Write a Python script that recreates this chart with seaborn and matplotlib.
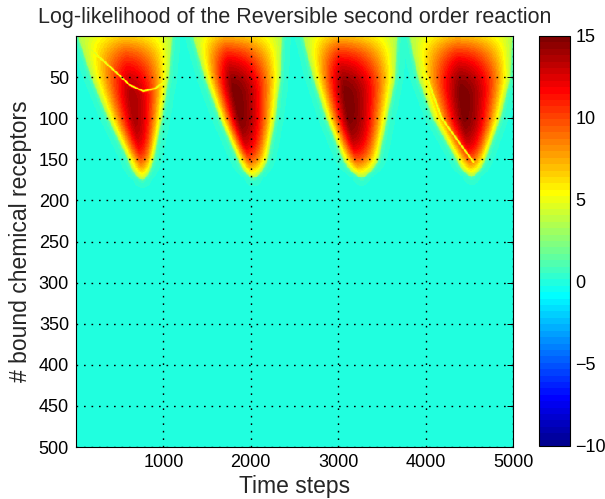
import numpy as np
import matplotlib
matplotlib.use("Agg")
import matplotlib.pyplot as plt
from matplotlib.colors import ListedColormap
import seaborn as sns

# ---------------- values ----------------
x_max = 5000
y_max = 500
edge_levels = [0, 50, 100, 150]                       # depth levels (y) of edge readings
left_edges = [[27, 179, 370, 599],
              [1342, 1476, 1648, 1857],
              [2601, 2716, 2868, 3059],
              [3822, 3917, 4089, 4356]]
right_edges = [[1095, 1056, 980, 885],
               [2353, 2334, 2277, 2189],
               [3669, 3650, 3555, 3459],
               [4985, 4966, 4851, 4680]]
tip_x = [760, 2030, 3268, 4527]
tip_y = [174, 172, 171, 170]
core_x = [640, 1819, 3090, 4413]
core_y = [80, 72, 76, 74]
peak = [13.8, 15.0, 15.0, 15.0]
edge_value = 3.5
top_value_depth = -15                                  # blobs continue above the top row

ridge1_x = [65, 236, 427, 618, 770, 904, 1037]
ridge1_y = [5, 23, 41, 60, 67, 64, 54]
ridge1_level = 4.8
ridge4_x = [3860, 4013, 4184, 4394, 4546]
ridge4_y = [5, 50, 100, 131, 153]
ridge4_level = 4.8

x_ticks = [1000, 2000, 3000, 4000, 5000]
y_ticks = [50, 100, 150, 200, 250, 300, 350, 400, 450, 500]
cbar_ticks = [-10, -5, 0, 5, 10, 15]
v_min, v_max = -10, 15

title = "Log-likelihood of the Reversible second order reaction"
x_label = "Time steps"
y_label = "# bound chemical receptors"

# ---------------- build the field ----------------
ncols, nrows = 1000, 500
dx = x_max / ncols
xs = (np.arange(ncols) + 0.5) * dx
ys = (np.arange(nrows) + 0.5) * (y_max / nrows)
SX = x_max / 437.0   # data units per pixel
SY = y_max / 411.0
XD, YD = np.meshgrid(xs, ys)

P_LEFT, P_RIGHT, P_UP, P_DOWN = 1.3, 2.0, 1.9, 3.0


def smooth(a, k=9):
    ker = np.ones(k) / k
    return np.convolve(np.pad(a, k // 2, mode="edge"), ker, mode="valid")


field = np.zeros((nrows, ncols))
for b in range(len(tip_x)):
    L, R = left_edges[b], right_edges[b]
    tx, ty = tip_x[b], tip_y[b]
    Lr = np.interp(ys, edge_levels, L)
    Rr = np.interp(ys, edge_levels, R)
    y_last = edge_levels[-1]
    frac = np.sqrt(np.clip((ty - ys) / (ty - y_last), 0, 1))
    m = ys > y_last
    Lr[m] = tx - (tx - L[-1]) * frac[m]
    Rr[m] = tx + (R[-1] - tx) * frac[m]
    Lr, Rr = smooth(Lr), smooth(Rr)
    W = np.maximum(Rr - Lr, 1e-6)
    U = (XD - Lr[:, None]) / W[:, None]

    Lc = np.interp(core_y[b], ys, Lr)
    Rc = np.interp(core_y[b], ys, Rr)
    uc = (core_x[b] - Lc) / (Rc - Lc)

    cy = core_y[b]
    t = np.where(ys < cy, (cy - ys) / (cy - top_value_depth), (ys - cy) / (ty - cy))
    t = np.clip(t, 0, 1)
    pv = np.where(ys < cy, P_UP, P_DOWN)
    g = edge_value + (peak[b] - edge_value) * (1 - t ** pv)

    s = np.where(U < uc, (uc - U) / uc, (U - uc) / (1 - uc))
    s = np.clip(s, 0, 1)
    ph = np.where(U < uc, P_LEFT, P_RIGHT)
    h = 1 - s ** ph
    v_in = edge_value + (g[:, None] - edge_value) * h

    inside = (U >= 0) & (U <= 1) & (YD < ty)
    dh = np.where(U < 0, (Lr[:, None] - XD) / SX, (XD - Rr[:, None]) / SX)
    dh = np.where(YD < ty, dh, np.inf)
    dt = np.hypot((XD - tx) / SX, (YD - ty) / SY)
    d = np.clip(np.minimum(dh, dt), 0, None)
    v_out = 2.0 * np.exp(-d / 0.7) + 1.5 * np.exp(-d / 4.0)
    v = np.where(inside, v_in, v_out)
    field = np.maximum(field, v)


def seg_dist(px, py, ax_, ay_, bx_, by_):
    vx, vy = bx_ - ax_, by_ - ay_
    tt = ((px - ax_) * vx + (py - ay_) * vy) / (vx * vx + vy * vy)
    tt = np.clip(tt, 0, 1)
    return np.hypot(px - (ax_ + tt * vx), py - (ay_ + tt * vy))


def apply_ridge(field, rx, ry, level, w=1.0):
    rx = np.array(rx) / SX
    ry = np.array(ry) / SY
    PX, PY = XD / SX, YD / SY
    d = np.full(field.shape, np.inf)
    for i in range(len(rx) - 1):
        d = np.minimum(d, seg_dist(PX, PY, rx[i], ry[i], rx[i + 1], ry[i + 1]))
    gg = np.exp(-(d / w) ** 2)
    return np.where(field > level, level + (field - level) * (1 - gg), field)


field = apply_ridge(field, ridge1_x, ridge1_y, ridge1_level)
field = apply_ridge(field, ridge4_x, ridge4_y, ridge4_level)


# MATLAB-style jet(64) colormap
def matlab_jet(m=64):
    n = int(np.ceil(m / 4))
    u = np.concatenate([np.arange(1, n + 1), n * np.ones(n - 1), np.arange(n, 0, -1)]) / n
    gpos = int(np.ceil(n / 2)) - (1 if m % 4 == 1 else 0) + np.arange(1, len(u) + 1)
    rpos = gpos + n
    bpos = gpos - n
    J = np.zeros((m, 3))
    ok = rpos <= m
    J[rpos[ok] - 1, 0] = u[ok]
    ok = gpos <= m
    J[gpos[ok] - 1, 1] = u[ok]
    ok = bpos >= 1
    J[bpos[ok] - 1, 2] = u[ok]
    return ListedColormap(J, name="matlab_jet")


# ---------------- plot ----------------
sns.set_style("white")
plt.rcParams["font.family"] = ["Liberation Sans", "DejaVu Sans"]

fig = plt.figure(figsize=(6.05, 4.99), dpi=100)
ax = fig.add_axes([76 / 605, (499 - 447) / 499, 437 / 605, 411 / 499])
cax = fig.add_axes([539 / 605, (499 - 446) / 499, 31 / 605, 410 / 499])

cmap = matlab_jet(64)
sns.heatmap(field, ax=ax, cmap=cmap, vmin=v_min, vmax=v_max, cbar_ax=cax,
            xticklabels=False, yticklabels=False, rasterized=True)

ax.set_xticks([t / dx for t in x_ticks])
ax.set_xticklabels([str(t) for t in x_ticks], rotation=0)
ax.set_yticks([t * nrows / y_max for t in y_ticks])
ax.set_yticklabels([str(t) for t in y_ticks], rotation=0)
ax.set_xlim(0, ncols)
ax.set_ylim(nrows, 0)
ax.tick_params(axis="both", direction="in", length=4, width=0.7, labelsize=13,
               colors="black", top=True, right=True, pad=5)
for sp in ax.spines.values():
    sp.set_visible(True)
    sp.set_color("black")
    sp.set_linewidth(0.8)
ax.set_axisbelow(False)
ax.grid(True, color="black", linestyle=(0, (1.2, 4.2)), linewidth=1.0)

ax.set_title(title, fontsize=15.5, pad=9)
ax.set_xlabel(x_label, fontsize=16.5, labelpad=3)
ax.set_ylabel(y_label, fontsize=16.5, labelpad=5)

cbar = ax.collections[0].colorbar
cbar.set_ticks(cbar_ticks)
cbar.set_ticklabels([str(t).replace("-", "\u2212") for t in cbar_ticks])
cax.tick_params(direction="in", length=4, width=0.7, labelsize=13, colors="black", pad=4)
cbar.outline.set_visible(True)
cbar.outline.set_edgecolor("black")
cbar.outline.set_linewidth(0.8)

fig.savefig("out.png", dpi=100)
